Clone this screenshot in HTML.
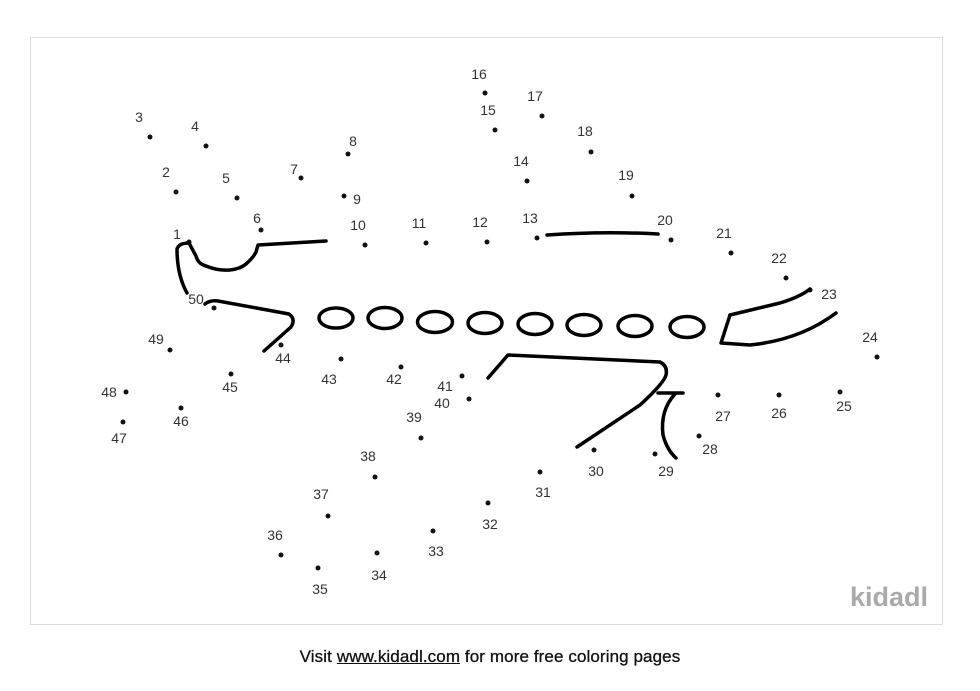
<!DOCTYPE html>
<html><head><meta charset="utf-8"><style>
html,body{margin:0;padding:0;background:#fff;width:980px;height:691px;overflow:hidden}
svg{position:absolute;left:0;top:0}
.l{font-family:"Liberation Sans",sans-serif;font-size:14px;fill:#333}
.s{fill:none;stroke:#000;stroke-width:3.5;stroke-linecap:round;stroke-linejoin:round}
#foot{position:absolute;left:0;width:980px;top:647px;text-align:center;font-family:"Liberation Sans",sans-serif;font-size:17px;color:#111;letter-spacing:0.1px;-webkit-text-stroke:0.3px #111}
#foot b{font-weight:normal;text-decoration:underline}
</style></head><body>
<svg width="980" height="691" viewBox="0 0 980 691">
<rect x="30.5" y="37.5" width="912" height="587" fill="#fff" stroke="#ddd"/>
<g fill="#111">
<circle cx="189" cy="242" r="2.5"/><circle cx="176" cy="192" r="2.5"/><circle cx="150" cy="137" r="2.5"/><circle cx="206" cy="146" r="2.5"/><circle cx="237" cy="198" r="2.5"/><circle cx="261" cy="230" r="2.5"/><circle cx="301" cy="178" r="2.5"/><circle cx="348" cy="154" r="2.5"/><circle cx="344" cy="196" r="2.5"/><circle cx="365" cy="245" r="2.5"/><circle cx="426" cy="243" r="2.5"/><circle cx="487" cy="242" r="2.5"/><circle cx="537" cy="238" r="2.5"/><circle cx="527" cy="181" r="2.5"/><circle cx="495" cy="130" r="2.5"/><circle cx="485" cy="93" r="2.5"/><circle cx="542" cy="116" r="2.5"/><circle cx="591" cy="152" r="2.5"/><circle cx="632" cy="196" r="2.5"/><circle cx="671" cy="240" r="2.5"/><circle cx="731" cy="253" r="2.5"/><circle cx="786" cy="278" r="2.5"/><circle cx="810" cy="290" r="2.5"/><circle cx="877" cy="357" r="2.5"/><circle cx="840" cy="392" r="2.5"/><circle cx="779" cy="395" r="2.5"/><circle cx="718" cy="395" r="2.5"/><circle cx="699" cy="436" r="2.5"/><circle cx="655" cy="454" r="2.5"/><circle cx="594" cy="450" r="2.5"/><circle cx="540" cy="472" r="2.5"/><circle cx="488" cy="503" r="2.5"/><circle cx="433" cy="531" r="2.5"/><circle cx="377" cy="553" r="2.5"/><circle cx="318" cy="568" r="2.5"/><circle cx="281" cy="555" r="2.5"/><circle cx="328" cy="516" r="2.5"/><circle cx="375" cy="477" r="2.5"/><circle cx="421" cy="438" r="2.5"/><circle cx="469" cy="399" r="2.5"/><circle cx="462" cy="376" r="2.5"/><circle cx="401" cy="367" r="2.5"/><circle cx="341" cy="359" r="2.5"/><circle cx="281" cy="345" r="2.5"/><circle cx="231" cy="374" r="2.5"/><circle cx="181" cy="408" r="2.5"/><circle cx="123" cy="422" r="2.5"/><circle cx="126" cy="392" r="2.5"/><circle cx="170" cy="350" r="2.5"/><circle cx="214" cy="308" r="2.5"/>
</g>
<g class="l" text-anchor="middle">
<text x="177" y="239">1</text><text x="166" y="177">2</text><text x="139" y="122">3</text><text x="195" y="131">4</text><text x="226" y="183">5</text><text x="257" y="223">6</text><text x="294" y="174">7</text><text x="353" y="146">8</text><text x="357" y="204">9</text><text x="358" y="230">10</text><text x="419" y="228">11</text><text x="480" y="227">12</text><text x="530" y="223">13</text><text x="521" y="166">14</text><text x="488" y="115">15</text><text x="479" y="79">16</text><text x="535" y="101">17</text><text x="585" y="136">18</text><text x="626" y="180">19</text><text x="665" y="225">20</text><text x="724" y="238">21</text><text x="779" y="263">22</text><text x="829" y="299">23</text><text x="870" y="342">24</text><text x="844" y="411">25</text><text x="779" y="418">26</text><text x="723" y="421">27</text><text x="710" y="454">28</text><text x="666" y="476">29</text><text x="596" y="476">30</text><text x="543" y="497">31</text><text x="490" y="529">32</text><text x="436" y="556">33</text><text x="379" y="580">34</text><text x="320" y="594">35</text><text x="275" y="540">36</text><text x="321" y="499">37</text><text x="368" y="461">38</text><text x="414" y="422">39</text><text x="442" y="408">40</text><text x="445" y="391">41</text><text x="394" y="384">42</text><text x="329" y="384">43</text><text x="283" y="363">44</text><text x="230" y="392">45</text><text x="181" y="426">46</text><text x="119" y="443">47</text><text x="109" y="397">48</text><text x="156" y="344">49</text><text x="196" y="304">50</text>
</g>
<g class="s">
<path d="M187 293 Q177 275 177 249 Q179 243 189 243 L196 256 Q198 264 206 266 Q218 271 230 270 Q240 269 246 264 Q253 258 256 252 L258 245 L326 241"/>
<path d="M205 304 Q210 300 218 301 L289 314 Q296 319 291 327 L264 351"/>
<path d="M547 235 Q603 231 658 234"/>
<path d="M730 315 L780 303 Q800 297 810 289"/>
<path d="M730 315 L721 343 L750 345 Q800 340 836 313"/>
<path d="M488 378 L508 355 L660 362 Q668 366 666 375 Q664 383 640 405 L577 447"/>
<path d="M658 393 L683 393"/>
<path d="M675 394 Q660 410 663 435 Q667 450 676 458"/>
<ellipse cx="336" cy="318" rx="17" ry="10"/><ellipse cx="385" cy="318" rx="17" ry="10.5"/><ellipse cx="435" cy="322" rx="17.5" ry="10.5"/><ellipse cx="485" cy="323" rx="17" ry="10.5"/><ellipse cx="535" cy="324" rx="17" ry="10.5"/><ellipse cx="584" cy="325" rx="17" ry="10.5"/><ellipse cx="635" cy="326" rx="17" ry="10.5"/><ellipse cx="687" cy="327" rx="17" ry="10.5"/>
</g>
<text x="928" y="606" text-anchor="end" font-family="Liberation Sans,sans-serif" font-size="27" font-weight="bold" fill="#aaa">kidadl</text>
</svg>
<div id="foot">Visit <b>www.kidadl.com</b> for more free coloring pages</div>
</body></html>
